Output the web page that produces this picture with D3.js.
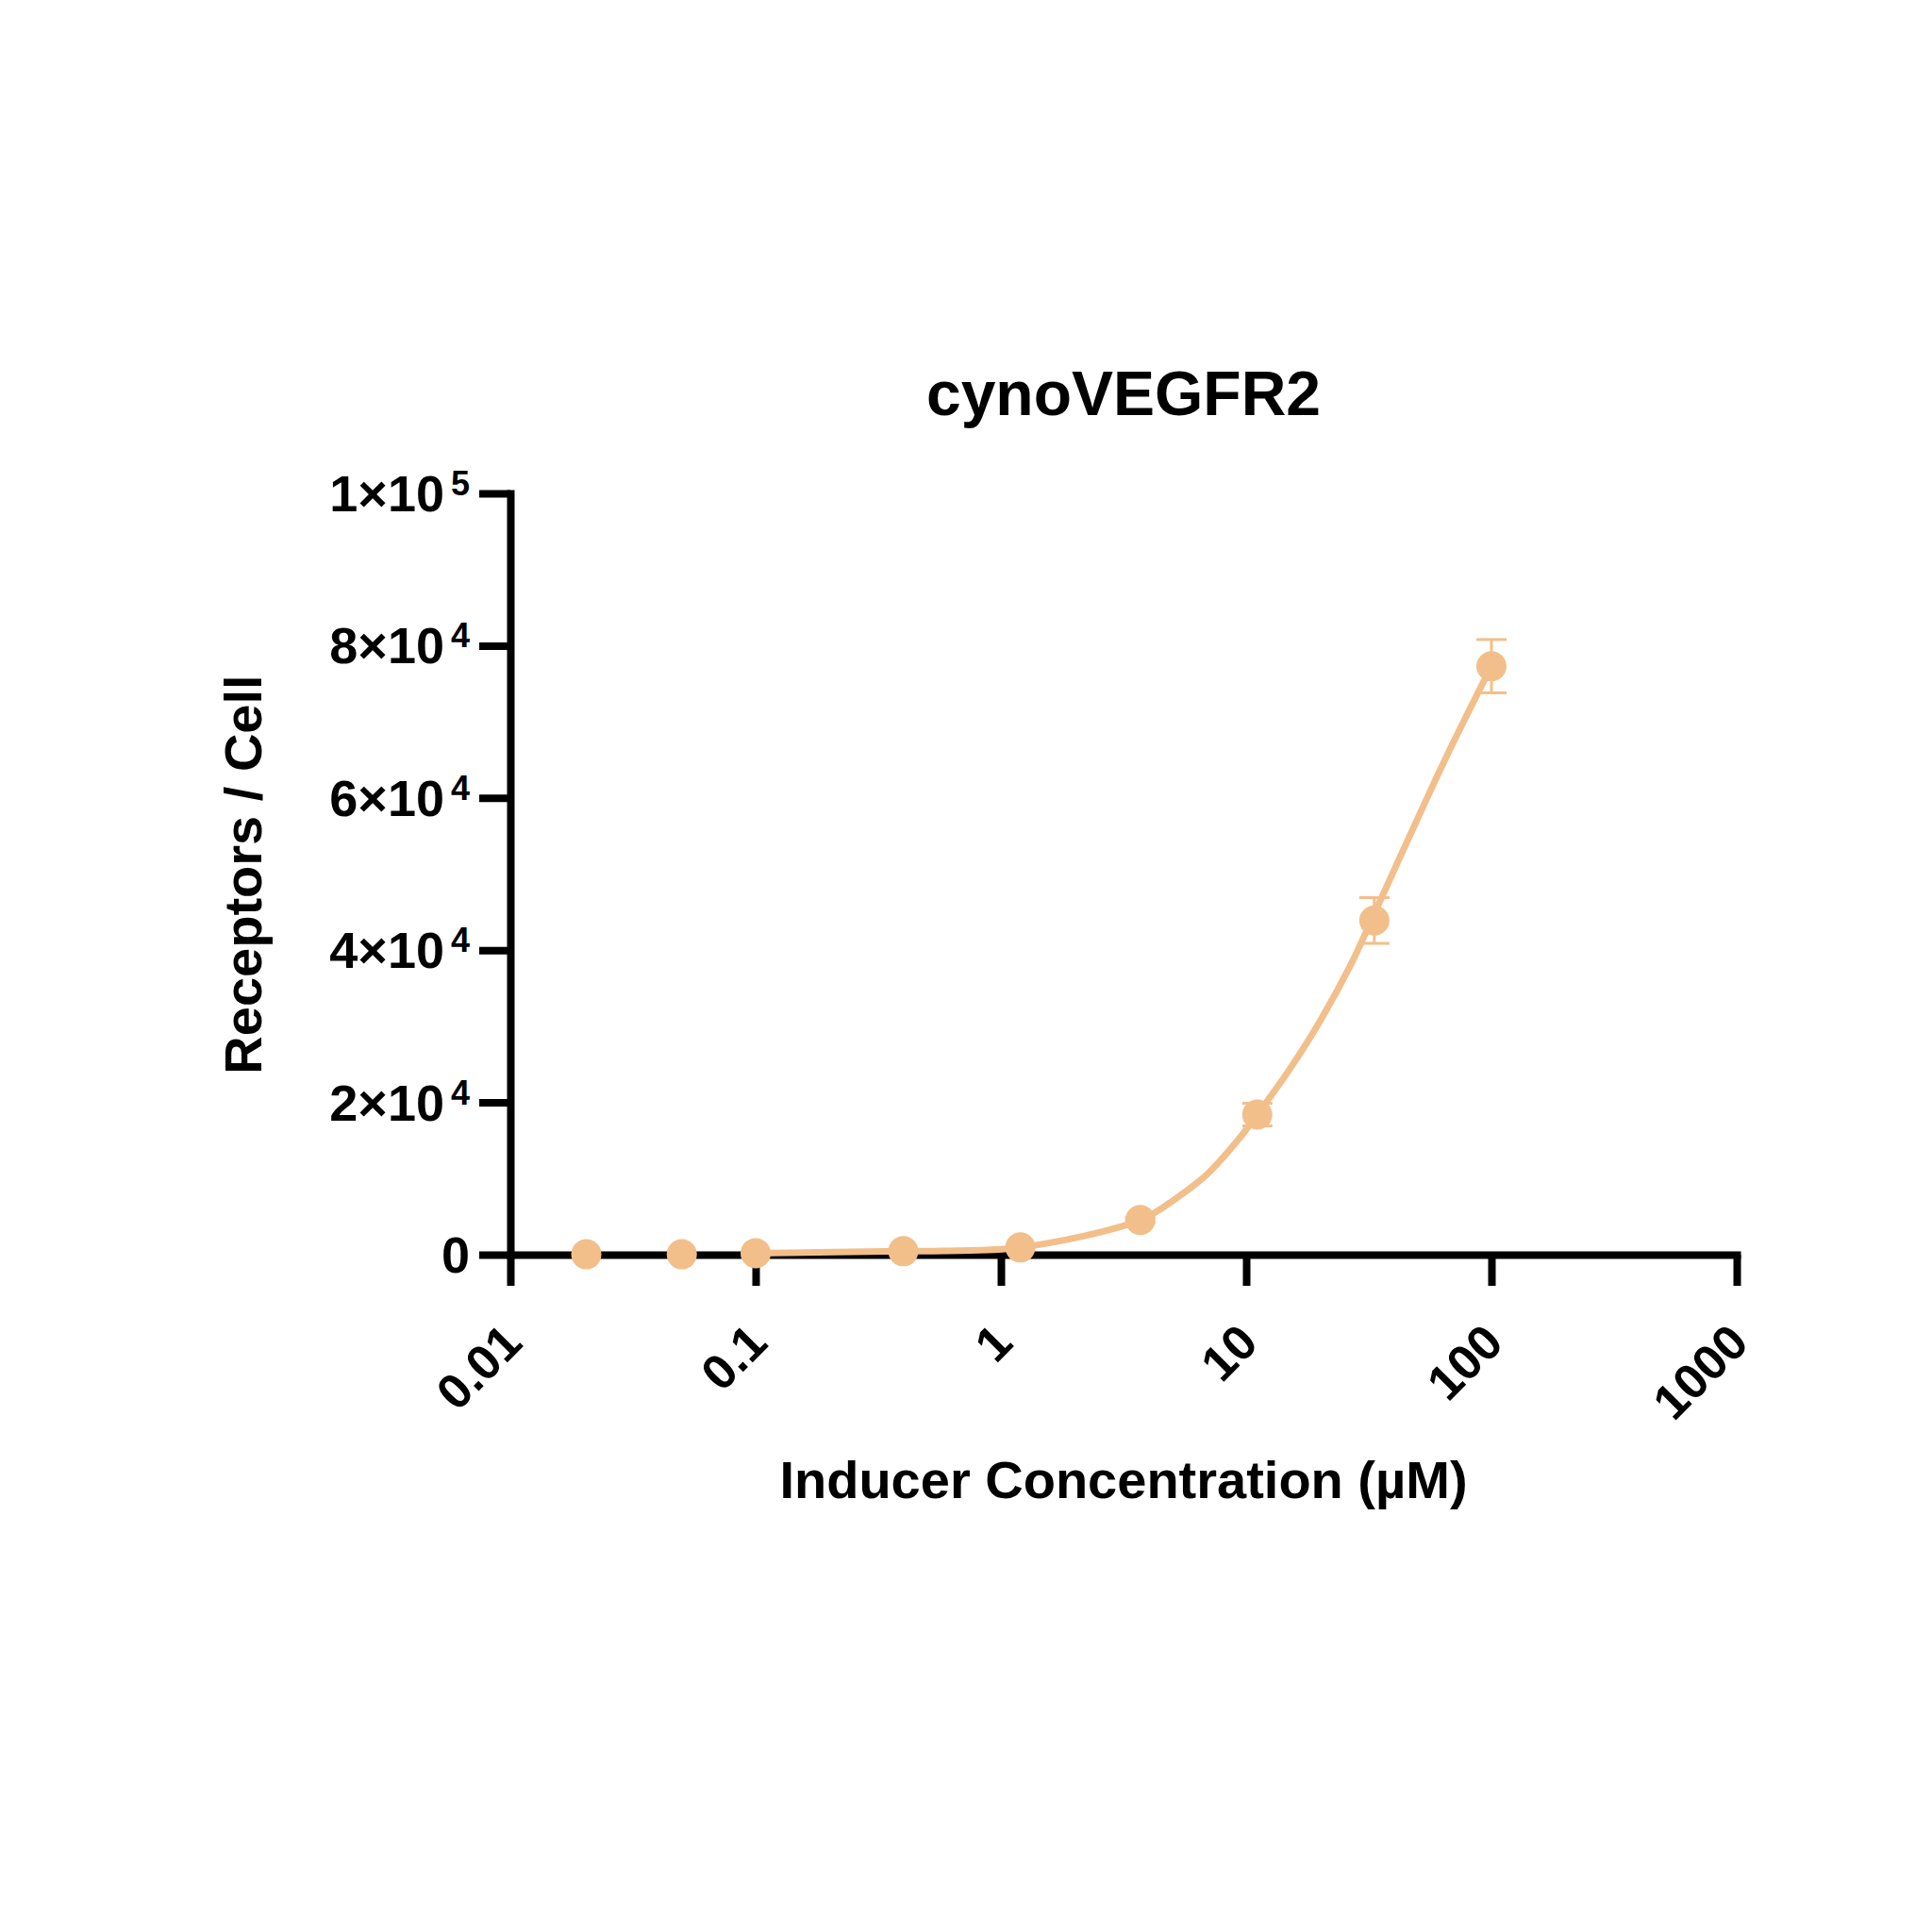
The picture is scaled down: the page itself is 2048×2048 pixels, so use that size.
<!DOCTYPE html>
<html>
<head>
<meta charset="utf-8">
<script src="https://cdn.jsdelivr.net/npm/d3@7"></script>
<style>
    body { margin: 0; background: #fff; }
    text { font-family: "Liberation Sans", Arial, sans-serif; font-weight: bold; fill: #000; }
</style>
</head>
<body>
<div id="chart"></div>
<script>
// measured points (concentration in µM, receptors per cell, SD)
var concentrations = [0.0204, 0.05, 0.1, 0.4, 1.2, 3.7, 11.1, 33.3, 100];
var receptors = [50, 50, 200, 450, 950, 4550, 18400, 43900, 77300];
var errors = [0, 0, 0, 0, 0, 300, 1500, 3000, 3500];

// fitted curve
var fitConc = [0.1, 0.4, 0.586, 1.2, 3.7, 5.18, 6.95, 9.34, 11.1, 15.0, 20.1, 27.0, 33.3, 48.9, 65.7, 100];
var fitValues = [200, 450, 500, 950, 4550, 7400, 10600, 15200, 18400, 24300, 30800, 38400, 44800, 56600, 65500, 77300];

var xTicks = [0.01, 0.1, 1, 10, 100, 1000];
var xTickLabels = ["0.01", "0.1", "1", "10", "100", "1000"];
var yTicks = [0, 20000, 40000, 60000, 80000, 100000];
var yTickMantissa = ["0", "2", "4", "6", "8", "1"];
var yTickExponent = ["", "4", "4", "4", "4", "5"];

var color = "#F2BF8B";

var width = 2048, height = 2048;
var svg = d3.select("#chart")
    .append("svg")
    .attr("width", width)
    .attr("height", height);

var x = d3.scaleLog()
    .domain([0.01, 1000])
    .range([541, 1841]);

var y = d3.scaleLinear()
    .domain([0, 100000])
    .range([1330, 523]);

// title
svg.append("text")
    .attr("x", 1191)
    .attr("y", 440)
    .attr("text-anchor", "middle")
    .style("font-size", "66px")
    .text("cynoVEGFR2");

// x axis
var xAxis = svg.append("g")
    .attr("transform", "translate(0," + y(0) + ")")
    .call(d3.axisBottom(x).tickValues(xTicks).tickSize(33).tickSizeOuter(0).tickFormat(""));

// y axis
var yAxis = svg.append("g")
    .attr("transform", "translate(" + x(0.01) + ",0)")
    .call(d3.axisLeft(y).tickValues(yTicks).tickSize(33).tickSizeOuter(0).tickFormat(""));

[xAxis, yAxis].forEach(function (ax) {
    ax.select(".domain")
        .attr("stroke", "#000")
        .attr("stroke-width", 8)
        .attr("stroke-linecap", "square");
    ax.selectAll(".tick line")
        .attr("stroke", "#000")
        .attr("stroke-width", 8);
});

// x tick labels, rotated
svg.append("g").selectAll("text")
    .data(xTicks)
    .enter()
    .append("text")
    .attr("transform", function (d) {
        return "translate(" + (x(d) + 15) + ",1426) rotate(-45)";
    })
    .attr("text-anchor", "end")
    .style("font-size", "52px")
    .text(function (d, i) { return xTickLabels[i]; });

// y tick labels with superscript exponents
var yLabels = svg.append("g").selectAll("text")
    .data(yTicks)
    .enter()
    .append("text")
    .attr("x", 498)
    .attr("y", function (d) { return y(d) + 19; })
    .attr("text-anchor", "end")
    .style("font-size", "54px");

yLabels.append("tspan")
    .text(function (d, i) { return d == 0 ? "0" : yTickMantissa[i] + "×10"; });

yLabels.append("tspan")
    .attr("dx", 7)
    .attr("dy", -17)
    .style("font-size", "36px")
    .text(function (d, i) { return yTickExponent[i]; });

// axis titles
svg.append("text")
    .attr("x", 1191)
    .attr("y", 1588)
    .attr("text-anchor", "middle")
    .style("font-size", "56px")
    .text("Inducer Concentration (µM)");

svg.append("text")
    .attr("transform", "translate(277,927) rotate(-90)")
    .attr("text-anchor", "middle")
    .style("font-size", "56px")
    .text("Receptors / Cell");

// fitted curve
var line = d3.line()
    .x(function (d) { return x(d[0]); })
    .y(function (d) { return y(d[1]); })
    .curve(d3.curveCatmullRom.alpha(0.5));

svg.append("path")
    .datum(d3.zip(fitConc, fitValues))
    .attr("d", line)
    .attr("fill", "none")
    .attr("stroke", color)
    .attr("stroke-width", 7);

// error bars
var points = d3.zip(concentrations, receptors, errors);
var bars = svg.append("g")
    .selectAll("g")
    .data(points.filter(function (d) { return d[2] > 0; }))
    .enter()
    .append("g")
    .attr("stroke", color)
    .attr("stroke-width", 3);

bars.append("line")
    .attr("x1", function (d) { return x(d[0]); })
    .attr("x2", function (d) { return x(d[0]); })
    .attr("y1", function (d) { return y(d[1] - d[2]); })
    .attr("y2", function (d) { return y(d[1] + d[2]); });

bars.append("line")
    .attr("x1", function (d) { return x(d[0]) - 16; })
    .attr("x2", function (d) { return x(d[0]) + 16; })
    .attr("y1", function (d) { return y(d[1] + d[2]); })
    .attr("y2", function (d) { return y(d[1] + d[2]); });

bars.append("line")
    .attr("x1", function (d) { return x(d[0]) - 16; })
    .attr("x2", function (d) { return x(d[0]) + 16; })
    .attr("y1", function (d) { return y(d[1] - d[2]); })
    .attr("y2", function (d) { return y(d[1] - d[2]); });

// points
svg.append("g")
    .selectAll("circle")
    .data(points)
    .enter()
    .append("circle")
    .attr("cx", function (d) { return x(d[0]); })
    .attr("cy", function (d) { return y(d[1]); })
    .attr("r", 16)
    .attr("fill", color);
</script>
</body>
</html>
